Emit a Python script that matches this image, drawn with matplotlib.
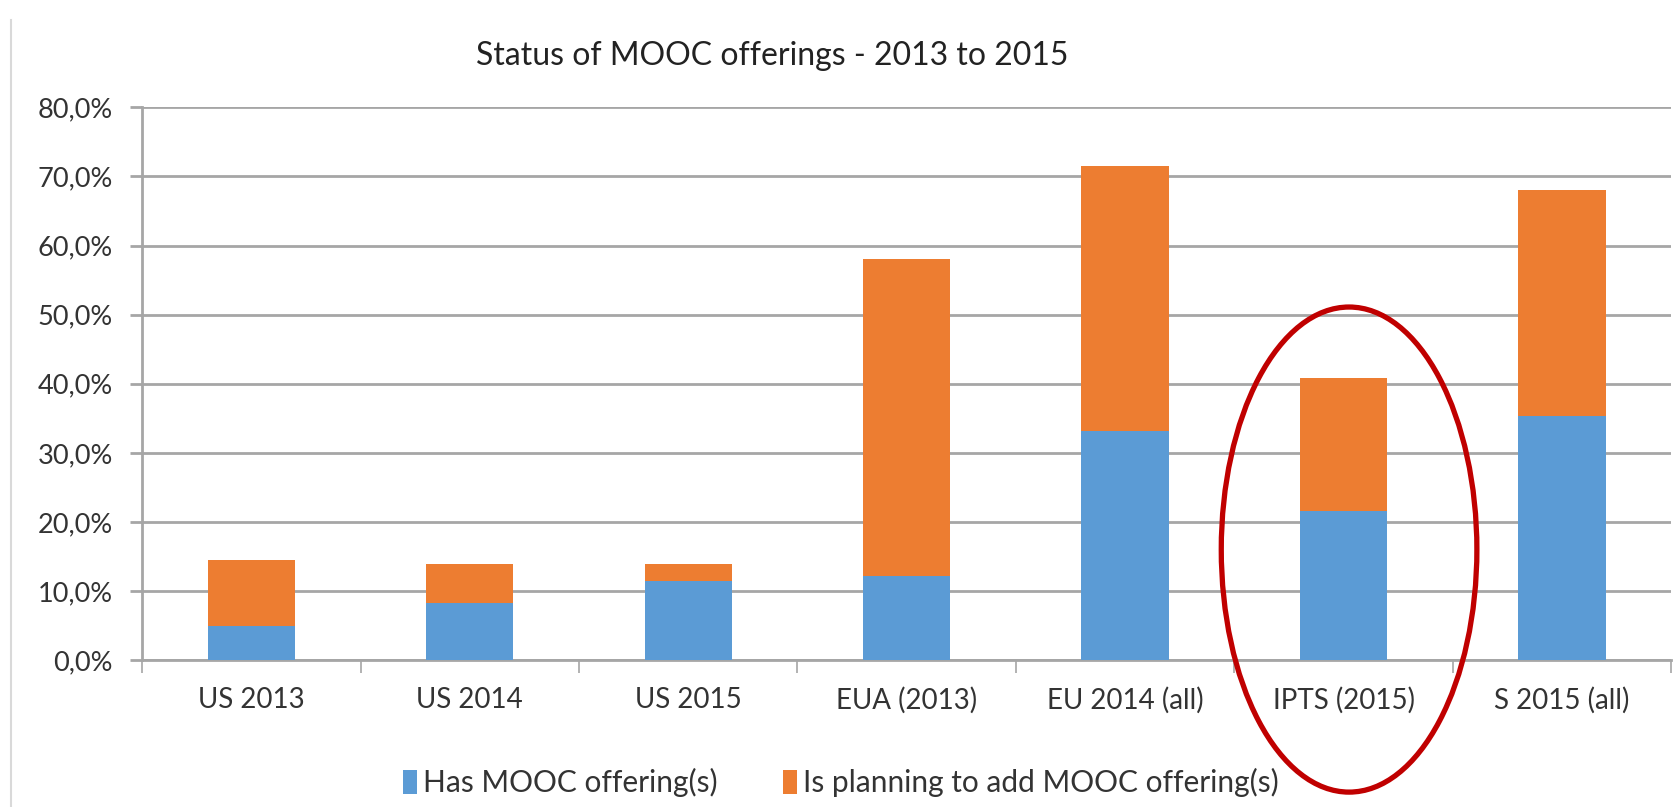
import matplotlib
matplotlib.use("Agg")
import matplotlib.pyplot as plt
from matplotlib.patches import Ellipse
from matplotlib.lines import Line2D
from matplotlib.ticker import FuncFormatter

# values (percent)
categories = ["US 2013", "US 2014", "US 2015", "EUA (2013)", "EU 2014 (all)", "IPTS (2015)", "S 2015 (all)"]
has_mooc = [5.0, 8.2, 11.4, 12.2, 33.2, 21.6, 35.4]
planning = [9.5, 5.7, 2.5, 45.9, 38.3, 19.2, 32.6]
highlight = "IPTS (2015)"

plt.rcParams["font.family"] = ["Lato", "DejaVu Sans"]

fig = plt.figure(figsize=(16.75, 8.07), dpi=100)
ax = fig.add_axes([0.0848, 0.182, 0.913, 0.685])

x = range(len(categories))
ax.bar(x, has_mooc, width=0.4, color="#5B9BD5", label="Has MOOC offering(s)", zorder=3)
ax.bar(x, planning, width=0.4, bottom=has_mooc, color="#ED7D31",
       label="Is planning to add MOOC offering(s)", zorder=3)

ax.set_xlim(-0.5, len(categories) - 0.5)
ax.set_ylim(0, 80)
ax.set_yticks(range(0, 81, 10))
ax.yaxis.set_major_formatter(FuncFormatter(lambda v, p: f"{v:.1f}%".replace(".", ",")))
ax.set_xticks(list(x))
ax.set_xticklabels(categories)
ax.set_xticks([i + 0.5 for i in range(-1, len(categories))], minor=True)

ax.grid(axis="y", color="#A6A6A6", linewidth=2, zorder=0)
for s in ["top", "right"]:
    ax.spines[s].set_visible(False)
for s in ["left", "bottom"]:
    ax.spines[s].set_color("#A6A6A6")
    ax.spines[s].set_linewidth(2)
ax.tick_params(axis="x", which="major", length=0, pad=19, labelsize=20, labelcolor="#333333")
ax.tick_params(axis="x", which="minor", length=9, width=1.2, color="#A6A6A6")
ax.tick_params(axis="y", length=9, width=2, color="#A6A6A6", pad=12, labelsize=19.5, labelcolor="#333333")

fig.text(0.461, 0.93, "Status of MOOC offerings - 2013 to 2015", ha="center", va="center",
         fontsize=23, color="#222222")

fig.legend(loc="center", bbox_to_anchor=(0.502, 0.03), ncol=2, frameon=False,
           fontsize=21.5, handlelength=0.45, handleheight=0.9, handletextpad=0.2,
           columnspacing=2.2, labelcolor="#333333")

# red ellipse around the highlighted category
hx = categories.index(highlight)
ax.add_patch(Ellipse((hx + 0.025, 16.0), 1.17, 70.2, fill=False, edgecolor="#C00000",
                     linewidth=3.8, clip_on=False, zorder=5))

# faint frame line at left edge
fig.add_artist(Line2D([0.0066, 0.0066], [0.0, 0.975], color="#D9D9D9", linewidth=1.5))

fig.savefig("out.png", dpi=100)
